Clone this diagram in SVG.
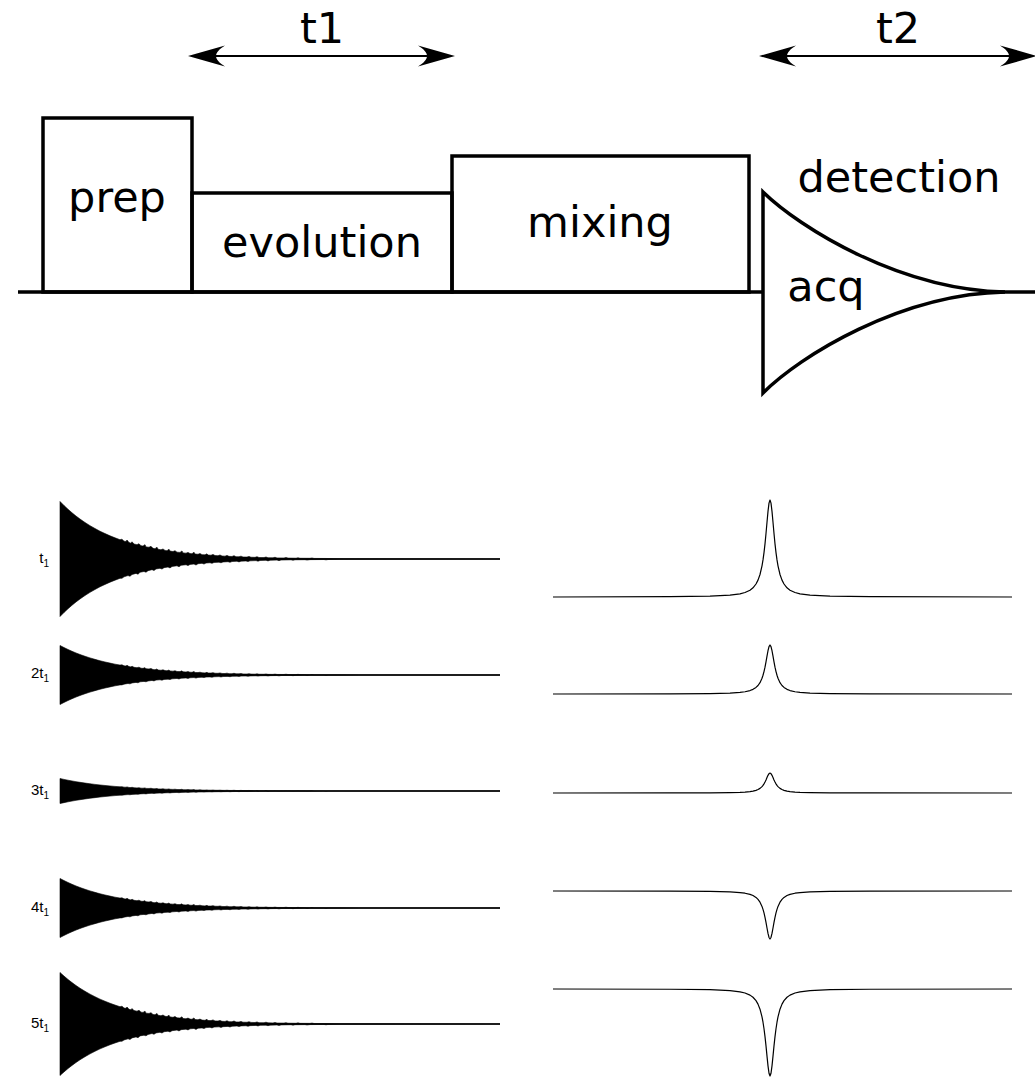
<svg xmlns="http://www.w3.org/2000/svg" xmlns:xlink="http://www.w3.org/1999/xlink" width="1035" height="1077" viewBox="0 0 1035 1077">
<style>
.box{fill:none;stroke:#000;stroke-width:3.5;stroke-linejoin:miter}
.big{font-family:"DejaVu Sans",sans-serif;font-size:43px;fill:#000}
.lbl{font-family:"Liberation Sans",Arial,sans-serif;font-size:15px;fill:#000}
.dim{stroke:#000;stroke-width:2;fill:none}
.head{fill:#000;stroke:none}
.fidshape{fill:#000;stroke:#000;stroke-width:0.6;vector-effect:non-scaling-stroke;stroke-linejoin:miter}
.fidbase{stroke:#000;stroke-width:1.3;fill:none}
.spec{fill:none;stroke:#000;stroke-width:1.2;vector-effect:non-scaling-stroke;stroke-linejoin:round}
</style>
<defs>
<path id="ah" class="head" d="M0,0 L37,-10.5 C25,-3 25,3 37,10.5 Z"/>
<path id="fid" class="fidshape" d="M0,-100 L4,-93 L8,-86.5 L12,-80.4 L16,-74.7 L20,-69.5 L25,-63.5 L30,-58 L35,-53 L40,-48.3 L45,-44.2 L50,-40.3 L55,-36.8 L60,-33.6 L62,-34.5 L64,-31 L66,-30.5 L67,-33 L69,-28.5 L71,-27.5 L72,-30 L74,-26 L77,-25 L79,-26.5 L81,-23 L83,-22.5 L85,-25 L86,-21 L89,-20.5 L91,-22 L93,-18.5 L95,-18 L97,-20.5 L98,-17 L101,-16 L103,-17.5 L105,-15 L107,-14.5 L109,-17 L110,-13.8 L113,-13 L115,-14.5 L117,-11.9 L120,-11.5 L122,-14 L123,-10.6 L126,-10.2 L128,-11.5 L130,-9.5 L132,-9.2 L134,-11.8 L135,-8.6 L138,-8.3 L140,-9.5 L142,-7.6 L145,-7.2 L147,-9 L148,-6.8 L151,-6.6 L153,-8 L155,-6 L158,-5.8 L160,-7 L162,-5.2 L165,-5 L167,-6.3 L169,-4.6 L172,-4.4 L174,-5.8 L176,-4 L179,-3.9 L181,-5 L183,-3.5 L187,-3.4 L189,-4.5 L191,-3.1 L195,-2.9 L197,-4 L199,-2.6 L204,-2.5 L206,-3.5 L208,-2.2 L213,-2.1 L215,-3 L217,-1.9 L224,-1.8 L226,-2.6 L228,-1.6 L236,-1.4 L238,-2.2 L240,-1.3 L250,-1.2 L252,-1.8 L254,-1 L265,-0.9 L280,-0.6 L300,-0.4 L440,0 L300,0.4 L280,0.6 L268,0.9 L266,1.5 L264,0.9 L250,1.1 L247,1.9 L245,1.2 L235,1.4 L233,2.3 L231,1.4 L221,1.8 L219,2.9 L217,1.9 L210,2.2 L208,3.3 L206,2.3 L200,2.6 L198,3.8 L196,2.8 L190,3.2 L188,4.4 L186,3.4 L181,3.7 L179,5 L177,3.9 L172,4.4 L170,5.8 L168,4.7 L163,5.2 L161,6.6 L159,5.5 L154,6 L152,7.6 L150,6.5 L146,7 L144,8.8 L142,7.6 L138,8.2 L136,10.5 L134,8.7 L130,9.4 L128,11.5 L126,10 L121,11 L119,13.5 L117,11.8 L112,13 L110,15.5 L108,14 L104,15 L102,17.5 L100,16.2 L96,17.3 L94,20 L92,18.5 L88,20.3 L86,23 L84,21.7 L80,23.1 L78,26.5 L76,25 L72,27 L70,30 L68,28.8 L64,31 L62,33.5 L60,33.6 L55,36.8 L50,40.3 L45,44.2 L40,48.3 L35,53 L30,58 L25,63.5 L20,69.5 L16,74.7 L12,80.4 L8,86.5 L4,93 L0,100 Z"/>
<path id="lor" class="spec" d="M553,0 L670,-0.3 L710,-0.83 L730,-1.86 L740,-3.25 L745,-4.62 L750,-7.03 L753,-9.48 L756,-13.4 L758,-17.4 L760,-23.2 L762,-32.1 L763,-38.2 L764,-45.7 L765,-54.8 L766,-65.4 L767,-77.1 L768,-88.3 L769,-96.8 L770,-100 L771,-96.8 L772,-88.3 L773,-77.1 L774,-65.4 L775,-54.8 L776,-45.7 L777,-38.2 L778,-32.1 L780,-23.2 L782,-17.4 L784,-13.4 L787,-9.48 L790,-7.03 L795,-4.62 L800,-3.25 L810,-1.86 L830,-0.83 L870,-0.3 L1012,0"/>
</defs>
<rect width="1035" height="1077" fill="#fff"/>

<g id="connectors">
  <path class="box" d="M18,292 H763 M1000,292 H1040"/>
  <g id="arrow-t1">
    <line class="dim" x1="200" y1="56" x2="443" y2="56"/>
    <use xlink:href="#ah" href="#ah" transform="translate(188,56)"/>
    <use xlink:href="#ah" href="#ah" transform="translate(455,56) scale(-1,1)"/>
  </g>
  <g id="arrow-t2">
    <line class="dim" x1="771" y1="56" x2="1025" y2="56"/>
    <use xlink:href="#ah" href="#ah" transform="translate(759,56)"/>
    <use xlink:href="#ah" href="#ah" transform="translate(1037,56) scale(-1,1)"/>
  </g>
</g>

<g id="label-t1"><text class="big" x="322" y="43" text-anchor="middle">t1</text></g>
<g id="label-t2"><text class="big" x="898" y="43" text-anchor="middle">t2</text></g>

<g id="prep">
  <rect class="box" x="43" y="118" width="149" height="174"/>
  <text class="big" x="117" y="212" text-anchor="middle">prep</text>
</g>
<g id="evolution">
  <rect class="box" x="192" y="193" width="260" height="99"/>
  <text class="big" x="322" y="257" text-anchor="middle">evolution</text>
</g>
<g id="mixing">
  <rect class="box" x="452" y="156" width="297" height="136"/>
  <text class="big" x="600" y="237" text-anchor="middle">mixing</text>
</g>
<g id="acq">
  <path class="box" d="M1005,292 C900,290 800,228 763,192 V393 C800,356 900,294 1005,292"/>
  <text class="big" x="826" y="301" text-anchor="middle">acq</text>
</g>
<g id="detection">
  <text class="big" x="899" y="192" text-anchor="middle">detection</text>
</g>

<g id="fids">
  <g id="fid1">
    <line class="fidbase" x1="60" y1="559" x2="500" y2="559"/>
    <use xlink:href="#fid" href="#fid" transform="translate(60,559) scale(1,0.575)"/>
    <text class="lbl" x="49" y="563" text-anchor="end">t<tspan font-size="10" dy="4">1</tspan></text>
  </g>
  <g id="fid2">
    <line class="fidbase" x1="60" y1="675" x2="500" y2="675"/>
    <use xlink:href="#fid" href="#fid" transform="translate(60,675) scale(1,0.295)"/>
    <text class="lbl" x="49" y="678" text-anchor="end">2t<tspan font-size="10" dy="4">1</tspan></text>
  </g>
  <g id="fid3">
    <line class="fidbase" x1="60" y1="791" x2="500" y2="791"/>
    <use xlink:href="#fid" href="#fid" transform="translate(60,791) scale(1,0.125)"/>
    <text class="lbl" x="49" y="795" text-anchor="end">3t<tspan font-size="10" dy="4">1</tspan></text>
  </g>
  <g id="fid4">
    <line class="fidbase" x1="60" y1="908" x2="500" y2="908"/>
    <use xlink:href="#fid" href="#fid" transform="translate(60,908) scale(1,0.295)"/>
    <text class="lbl" x="49" y="912" text-anchor="end">4t<tspan font-size="10" dy="4">1</tspan></text>
  </g>
  <g id="fid5">
    <line class="fidbase" x1="60" y1="1024" x2="500" y2="1024"/>
    <use xlink:href="#fid" href="#fid" transform="translate(60,1024) scale(1,0.515)"/>
    <text class="lbl" x="49" y="1028" text-anchor="end">5t<tspan font-size="10" dy="4">1</tspan></text>
  </g>
</g>

<g id="spectra">
  <use id="spec1" xlink:href="#lor" href="#lor" transform="translate(0,597) scale(1,0.97)"/>
  <use id="spec2" xlink:href="#lor" href="#lor" transform="translate(0,694) scale(1,0.49)"/>
  <use id="spec3" xlink:href="#lor" href="#lor" transform="translate(0,793) scale(1,0.20)"/>
  <use id="spec4" xlink:href="#lor" href="#lor" transform="translate(0,891) scale(1,-0.48)"/>
  <use id="spec5" xlink:href="#lor" href="#lor" transform="translate(0,989) scale(1,-0.87)"/>
</g>
</svg>
